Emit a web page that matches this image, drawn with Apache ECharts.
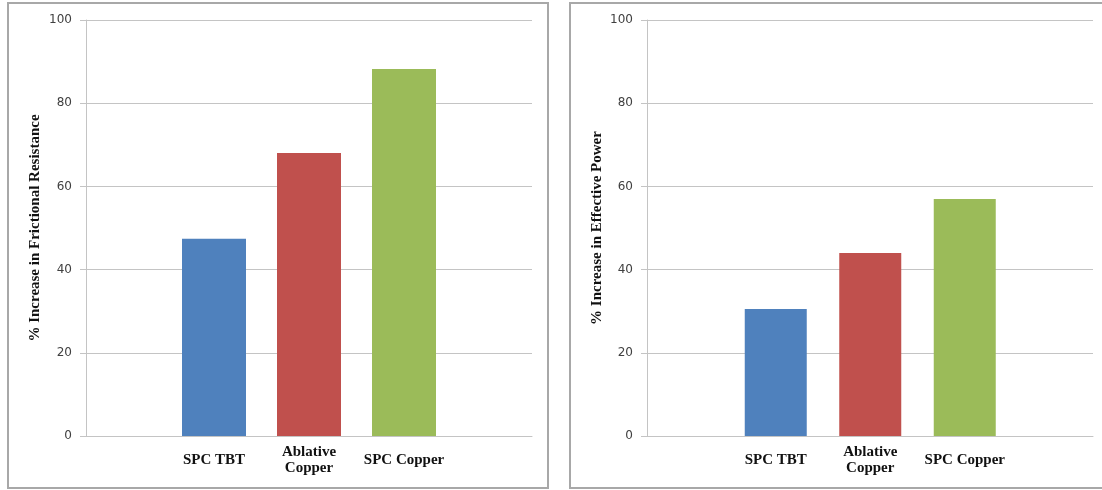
<!DOCTYPE html>
<html>
<head>
<meta charset="utf-8">
<title>Increase in Frictional Resistance and Effective Power</title>
<script src="https://cdn.jsdelivr.net/npm/echarts@6/dist/echarts.min.js"></script>
<style>
  html, body { margin: 0; padding: 0; background: #ffffff; }
  #chart { width: 1102px; height: 490px; }
</style>
</head>
<body>
<div id="chart"></div>
<script>
// Coating types compared in both panels
var categories = ['SPC TBT', 'Ablative\nCopper', 'SPC Copper'];
// % increase in frictional resistance (left panel)
var frictionalResistance = [47.4, 68, 88.2];
// % increase in effective power (right panel)
var effectivePower = [30.5, 44, 57];
// Bar colour for each coating
var barColors = ['#4F81BD', '#C0504D', '#9BBB59'];
// Value axis range and step
var yMin = 0, yMax = 100, yStep = 20;

var gridColor = '#c4c4c4';
var labelColor = '#404040';
var serifBold = { fontFamily: '"Liberation Serif", "Times New Roman", serif', fontWeight: 'bold' };

function panelAxes(gridFull, gridBars, yName, nameGap) {
  var xAxes = [
    {
      gridIndex: gridFull, type: 'category', data: [''],
      axisLine: { show: true, lineStyle: { color: gridColor, width: 1 } },
      axisTick: { show: false }, axisLabel: { show: false }, splitLine: { show: false }
    },
    {
      gridIndex: gridBars, type: 'category', data: categories,
      axisLine: { show: false }, axisTick: { show: false },
      axisLabel: Object.assign({
        color: '#111', fontSize: 15, lineHeight: 16, margin: 24,
        verticalAlign: 'middle', interval: 0
      }, serifBold)
    }
  ];
  var yAxes = [
    {
      gridIndex: gridFull, type: 'value', min: yMin, max: yMax, interval: yStep,
      name: yName, nameLocation: 'middle', nameGap: nameGap, nameRotate: 90,
      nameTextStyle: Object.assign({ color: '#111', fontSize: 15 }, serifBold),
      axisLine: { show: true, lineStyle: { color: gridColor, width: 1 } },
      axisTick: { show: true, length: 6, lineStyle: { color: gridColor } },
      axisLabel: { color: labelColor, fontSize: 12, margin: 14, fontFamily: '"DejaVu Sans", Verdana, sans-serif' },
      splitLine: { show: true, lineStyle: { color: gridColor, width: 1 } }
    },
    {
      gridIndex: gridBars, type: 'value', min: yMin, max: yMax, interval: yStep,
      show: false, splitLine: { show: false }
    }
  ];
  return { x: xAxes, y: yAxes };
}

var left = panelAxes(0, 1, '% Increase in Frictional Resistance', 43);
var right = panelAxes(2, 3, '% Increase in Effective Power', 42);

function barSeries(axisIndex, values, width) {
  return {
    type: 'bar', xAxisIndex: axisIndex, yAxisIndex: axisIndex,
    barWidth: width,
    data: values.map(function (v, i) {
      return { value: v, itemStyle: { color: barColors[i] } };
    }),
    silent: true
  };
}

var chart = echarts.init(document.getElementById('chart'), null, { renderer: 'canvas' });
chart.setOption({
  animation: false,
  backgroundColor: '#ffffff',
  graphic: [
    { type: 'rect', shape: { x: 8, y: 3, width: 540, height: 485 },
      style: { fill: 'none', stroke: '#a8a8a8', lineWidth: 2 }, z: 100 },
    { type: 'rect', shape: { x: 570, y: 3, width: 540, height: 485 },
      style: { fill: 'none', stroke: '#a8a8a8', lineWidth: 2 }, z: 100 }
  ],
  grid: [
    { left: 86, top: 20, width: 446, height: 416 },
    { left: 166.5, top: 20, width: 285, height: 416 },
    { left: 647, top: 20, width: 446, height: 416 },
    { left: 728.5, top: 20, width: 283.5, height: 416 }
  ],
  xAxis: left.x.concat(right.x),
  yAxis: left.y.concat(right.y),
  series: [
    barSeries(1, frictionalResistance, 64),
    barSeries(3, effectivePower, 62)
  ]
});
</script>
</body>
</html>
